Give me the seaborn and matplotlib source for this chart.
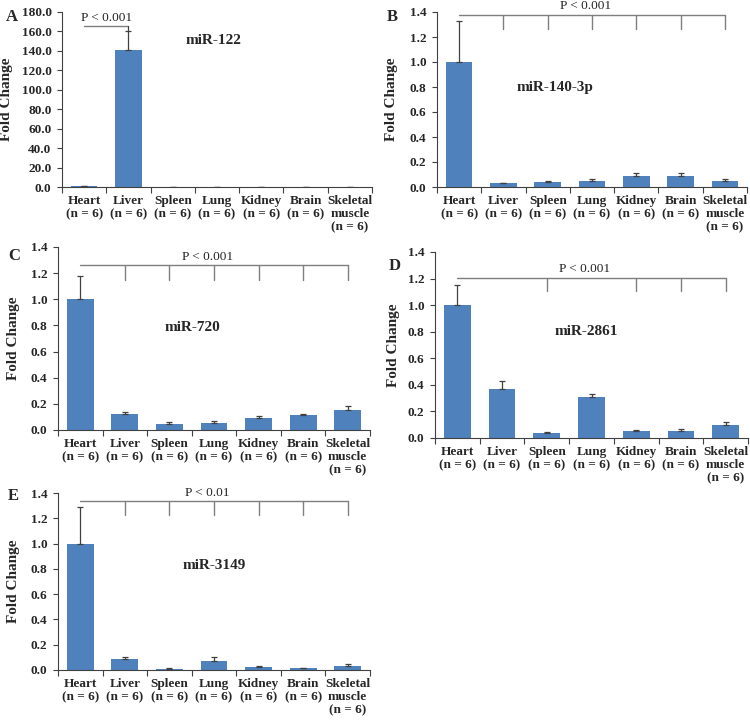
import matplotlib
matplotlib.use("Agg")
import matplotlib.pyplot as plt
import seaborn as sns
import pandas as pd
import numpy as np

sns.set_theme(style="white")
plt.rcParams["font.family"] = ["Liberation Serif", "DejaVu Serif"]

organs = ["Heart", "Liver", "Spleen", "Lung", "Kidney", "Brain", "Skeletal muscle"]
tick_labels = ["Heart\n(n = 6)", "Liver\n(n = 6)", "Spleen\n(n = 6)", "Lung\n(n = 6)",
               "Kidney\n(n = 6)", "Brain\n(n = 6)", "Skeletal\nmuscle\n(n = 6)"]

panel_letters = ["A", "B", "C", "D", "E"]
mirnas = ["miR-122", "miR-140-3p", "miR-720", "miR-2861", "miR-3149"]

a_mean = [1.0, 140.5, 0.05, 0.2, 0.05, 0.05, 0.3]
a_err = [0.4, 19.5, 0.02, 0.1, 0.02, 0.02, 0.1]
b_mean = [1.0, 0.03, 0.04, 0.045, 0.085, 0.09, 0.045]
b_err = [0.33, 0.005, 0.01, 0.02, 0.03, 0.02, 0.018]
c_mean = [1.0, 0.12, 0.045, 0.055, 0.09, 0.115, 0.155]
c_err = [0.18, 0.02, 0.015, 0.012, 0.015, 0.01, 0.025]
d_mean = [1.0, 0.37, 0.035, 0.31, 0.05, 0.055, 0.095]
d_err = [0.15, 0.06, 0.008, 0.02, 0.01, 0.01, 0.025]
e_mean = [1.0, 0.085, 0.008, 0.07, 0.022, 0.015, 0.035]
e_err = [0.29, 0.02, 0.004, 0.03, 0.006, 0.003, 0.01]

p_texts = ["P < 0.001", "P < 0.001", "P < 0.001", "P < 0.001", "P < 0.01"]
bracket_y = [166.0, 1.38, 1.26, 1.207, 1.334]
bracket_drop = [None, 1.267, 1.145, 1.107, 1.228]
bracket_end = [1, 6, 6, 6, 6]
drop_organs = [[], organs[1:], organs[1:], ["Spleen", "Kidney", "Brain", "Skeletal muscle"], organs[1:]]

ylims = [180, 1.4, 1.4, 1.4, 1.4]
ysteps = [20, 0.2, 0.2, 0.2, 0.2]

means = [a_mean, b_mean, c_mean, d_mean, e_mean]
errs = [a_err, b_err, c_err, d_err, e_err]

# axes boxes in pixels: left, right, top, bottom
boxes = [(62, 372, 12, 187), (437, 747, 12, 187), (58, 370, 247, 430),
         (435, 748, 252, 438), (58, 370, 493, 670)]
title_pos = [(0.49, 0.84), (0.38, 0.57), (0.43, 0.56), (0.485, 0.57), (0.5, 0.59)]
letter_pos = [(6, 17), (387, 17), (8, 256), (389, 266), (8, 496)]
ylabel_x = [-0.158, -0.126, -0.122, -0.112, -0.122]

W, H = 750, 721
fig = plt.figure(figsize=(W / 100, H / 100), dpi=100)
bar_color = "#4F81BD"

for i in range(5):
    l, r, t, b = boxes[i]
    ax = fig.add_axes([l / W, 1 - b / H, (r - l) / W, (b - t) / H])
    df = pd.DataFrame({"organ": organs, "fc": means[i], "err": errs[i]})
    sns.barplot(data=df, x="organ", y="fc", order=organs, color=bar_color,
                saturation=1, width=0.6, errorbar=None, ax=ax, linewidth=0)
    xs = np.arange(len(organs))
    ax.errorbar(xs, df["fc"], yerr=[np.zeros(len(organs)), df["err"]], fmt="none",
                ecolor="#404040", elinewidth=0.9, capsize=2.5, capthick=0.9)
    ax.set_xlim(-0.5, 6.5)
    ax.set_ylim(0, ylims[i])
    ticks = np.arange(0, ylims[i] + ysteps[i] / 2, ysteps[i])
    ax.set_yticks(ticks)
    ax.set_yticklabels([f"{v:.1f}" for v in ticks], fontsize=9.5, fontweight="bold")
    ax.set_xticks(xs)
    ax.set_xticklabels(tick_labels, fontsize=9.5, fontweight="bold", linespacing=1.1)
    ax.set_xticks(np.arange(-0.5, 7.0, 1.0), minor=True)
    ax.tick_params(axis="x", which="major", length=0, pad=6)
    ax.tick_params(axis="x", which="minor", length=4, width=0.8, direction="out", bottom=True, color="#404040")
    ax.tick_params(axis="y", which="major", length=3.5, width=0.8, direction="out", left=True, color="#404040", pad=4)
    ax.set_xlabel("")
    ax.set_ylabel("Fold Change", fontsize=11, fontweight="bold")
    ax.yaxis.set_label_coords(ylabel_x[i], 0.5)
    for s in ["top", "right"]:
        ax.spines[s].set_visible(False)
    for s in ["left", "bottom"]:
        ax.spines[s].set_color("#404040")
        ax.spines[s].set_linewidth(0.8)
    ax.text(title_pos[i][0], title_pos[i][1], mirnas[i], transform=ax.transAxes,
            ha="center", va="center", fontsize=11, fontweight="bold")
    fig.text(letter_pos[i][0] / W, 1 - letter_pos[i][1] / H, panel_letters[i],
             ha="left", va="center", fontsize=12, fontweight="bold")
    # significance bracket
    by = bracket_y[i]
    end = bracket_end[i]
    ax.plot([0, end], [by, by], color="#7f7f7f", lw=1.0, clip_on=False)
    if bracket_drop[i] is not None:
        for o in drop_organs[i]:
            k = organs.index(o)
            ax.plot([k, k], [by, bracket_drop[i]], color="#7f7f7f", lw=1.0, clip_on=False)
        tx = 2.85
    else:
        ax.plot([end, end], [by, a_mean[1] + a_err[1]], color="#404040", lw=0.9)
        tx = end / 2
    ax.text(tx, by + ylims[i] * 0.012, p_texts[i], ha="center", va="bottom",
            fontsize=9.5, color="#222222", clip_on=False)

fig.savefig("out.png", dpi=100)
